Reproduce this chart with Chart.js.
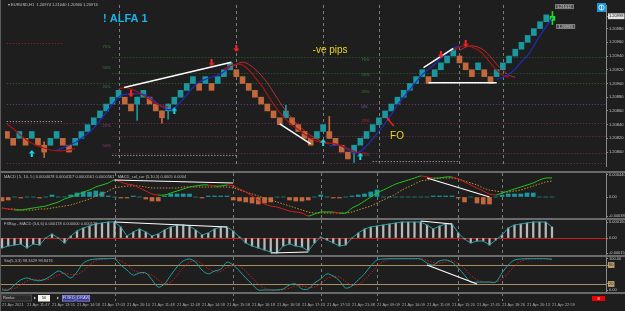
<!DOCTYPE html>
<html>
<head>
<meta charset="utf-8">
<title>EURUSD Renko</title>
<script src="https://cdn.jsdelivr.net/npm/chart.js@4.4.1/dist/chart.umd.min.js"></script>
<style>
  html, body { margin: 0; padding: 0; background: #1e1e1e; }
  #wrap { position: relative; width: 625px; height: 311px; overflow: hidden; background: #1e1e1e; }
  canvas { position: absolute; left: 0; }
  .sep { position: absolute; left: 0; width: 625px; height: 2px; background: #6b6b6b; }
  .frame { position: absolute; left: 0; top: 0; width: 1px; height: 311px; background: #5c5c5c; }
</style>
</head>
<body>
<div id="wrap">
  <canvas id="mainChart" width="625" height="171" style="top:0"></canvas>
  <div class="sep" style="top:171px"></div>
  <canvas id="macdChart" width="625" height="45" style="top:173px"></canvas>
  <div class="sep" style="top:218px"></div>
  <canvas id="osmaChart" width="625" height="35" style="top:220px"></canvas>
  <div class="sep" style="top:255px"></div>
  <canvas id="stochChart" width="625" height="54" style="top:257px"></canvas>
  <div class="sep" style="top:292px"></div>
  <div class="frame"></div>
</div>
<script>
const FONT = '"Liberation Sans", Arial, sans-serif';

// renko bricks, one per bar
const opens = [
  1.2083, 1.2082, 1.2082, 1.2082, 1.2082, 1.2082, 1.2081, 1.2081, 1.2082, 1.2082,
  1.2081, 1.2081, 1.2082, 1.2083, 1.2084, 1.2085, 1.2086, 1.2087, 1.2088, 1.2088,
  1.2087, 1.2087, 1.2088, 1.2088, 1.2087, 1.2086, 1.2086, 1.2087, 1.2088, 1.2089,
  1.2090, 1.2090, 1.2090, 1.2090, 1.2090, 1.2091, 1.2092, 1.2092, 1.2091, 1.2090,
  1.2089, 1.2088, 1.2087, 1.2086, 1.2085, 1.2085, 1.2085, 1.2084, 1.2083, 1.2082,
  1.2082, 1.2083, 1.2083, 1.2082, 1.2081, 1.2080, 1.2080, 1.2081, 1.2082, 1.2083,
  1.2084, 1.2085, 1.2086, 1.2087, 1.2088, 1.2089, 1.2090, 1.2091, 1.2091, 1.2091,
  1.2092, 1.2093, 1.2094, 1.2094, 1.2093, 1.2092, 1.2092, 1.2092, 1.2091, 1.2091,
  1.2092, 1.2093, 1.2094, 1.2095, 1.2096, 1.2097, 1.2098, 1.2099, 1.20992
];
const closes = [
  1.2082, 1.2081, 1.2083, 1.2081, 1.2083, 1.2081, 1.2080, 1.2082, 1.2083, 1.2081,
  1.2080, 1.2082, 1.2083, 1.2084, 1.2085, 1.2086, 1.2087, 1.2088, 1.2089, 1.2087,
  1.2086, 1.2088, 1.2089, 1.2087, 1.2086, 1.2085, 1.2087, 1.2088, 1.2089, 1.2090,
  1.2091, 1.2089, 1.2091, 1.2089, 1.2091, 1.2092, 1.2093, 1.2091, 1.2090, 1.2089,
  1.2088, 1.2087, 1.2086, 1.2085, 1.2084, 1.2086, 1.2084, 1.2083, 1.2082, 1.2081,
  1.2083, 1.2084, 1.2082, 1.2081, 1.2080, 1.2079, 1.2081, 1.2082, 1.2083, 1.2084,
  1.2085, 1.2086, 1.2087, 1.2088, 1.2089, 1.2090, 1.2091, 1.2092, 1.2090, 1.2092,
  1.2093, 1.2094, 1.2095, 1.2093, 1.2092, 1.2091, 1.2093, 1.2091, 1.2090, 1.2092,
  1.2093, 1.2094, 1.2095, 1.2096, 1.2097, 1.2098, 1.2099, 1.2100, 1.20998
];
const wickIdx  = [6, 21, 25, 26, 45, 52, 56, 88];
const wickLow  = [1.20792, 1.20846, 1.20842, 1.20848, 1.20850, 1.20820, 1.20785, 1.20986];
const wickHigh = [1.20815, 1.20880, 1.20860, 1.20870, 1.20868, 1.20852, 1.20810, 1.21005];

// moving averages, segments start at the given bar
const blueStart = [8, 52, 79];
const blueVals = [
  [1.20803, 1.20806, 1.20810, 1.20814, 1.20820, 1.20827, 1.20835, 1.20846, 1.20858, 1.20869,
   1.20880, 1.20884, 1.20885, 1.20885, 1.20884, 1.20880, 1.20873, 1.20866, 1.20862, 1.20864,
   1.20873, 1.20883, 1.20894, 1.20902, 1.20906, 1.20909, 1.20912, 1.20917, 1.20924],
  [1.20809, 1.20810, 1.20809, 1.20803, 1.20799, 1.20801, 1.20809, 1.20819, 1.20830, 1.20842,
   1.20855, 1.20869, 1.20880, 1.20891, 1.20902, 1.20913, 1.20921, 1.20928, 1.20937, 1.20944,
   1.20951, 1.20955],
  [1.20906, 1.20909, 1.20914, 1.20921, 1.20932, 1.20941, 1.20955, 1.20970, 1.20983, 1.20996]
];
const redStart = [0, 18, 35, 72];
const redVals = [
  [1.20841, 1.20834, 1.20826, 1.20819, 1.20813, 1.20809, 1.20806, 1.20803, 1.20802, 1.20802,
   1.20803, 1.20805],
  [1.20892, 1.20894, 1.20892, 1.20888, 1.20883, 1.20877, 1.20871, 1.20867, 1.20866],
  [1.20920, 1.20926, 1.20928, 1.20927, 1.20920, 1.20909, 1.20898, 1.20884, 1.20870, 1.20858,
   1.20848, 1.20839, 1.20833, 1.20826, 1.20820, 1.20816, 1.20814, 1.20813, 1.20812, 1.20809,
   1.20805, 1.20801, 1.20798, 1.20799],
  [1.20948, 1.20953, 1.20955, 1.20953, 1.20949, 1.20941, 1.20930, 1.20919, 1.20912, 1.20909]
];
const red2Start = [36, 73];
const red2Vals = [
  [1.20921, 1.20928, 1.20931, 1.20928, 1.20921, 1.20912, 1.20901, 1.20887, 1.20873, 1.20860,
   1.20849, 1.20839, 1.20831, 1.20824, 1.20819, 1.20814, 1.20812],
  [1.20948, 1.20953, 1.20955, 1.20953, 1.20948, 1.20939, 1.20928, 1.20919, 1.20912, 1.20909]
];

// signal arrows
const upArrowIdx = [4, 27, 51, 57];
const upArrowPrice = [1.20798, 1.20860, 1.20814, 1.20794];
const downArrowIdx = [20, 33, 37, 70, 74];
const downArrowPrice = [1.20885, 1.20930, 1.20951, 1.20942, 1.20958];

// hand drawn trend lines
const trendX1 = [18.9, 44, 67.2, 68];
const trendY1 = [1.20894, 1.20841, 1.20923, 1.20901];
const trendX2 = [36.2, 49, 72, 79];
const trendY2 = [1.20931, 1.20812, 1.20951, 1.20901];

// fibo / level lines
const fiboPrice = [1.20959, 1.20938, 1.20916, 1.20901, 1.20870, 1.20845, 1.20842, 1.20823, 1.20799, 1.20796, 1.20784, 1.20787];
const fiboFrom  = [-1, 17, 17, -1, -1, -1, -1, 17, 17, 17, -1, 59];
const fiboTo    = [9, 98, 98, 98, 98, 9, 98, 98, 98, 37, 98, 73];
const fiboGroup = ['red', 'green', 'green', 'green', 'purple', 'white', 'magenta', 'magenta', 'magenta', 'white', 'magenta', 'white'];
const fiboLabelText  = ['75%', '50%', '25%', '0%', '25%', '50%', '75%', '50%', '25%', '0%', '25%', '50%', '75%'];
const fiboLabelIdx   = [15.4, 15.4, 15.4, 15.4, 15.4, 15.4, 57.2, 57.2, 57.2, 57.2, 57.2, 57.2, 57.2];
const fiboLabelPrice = [1.20953, 1.20923, 1.20895, 1.20867, 1.20838, 1.20809, 1.20934, 1.20912, 1.20888, 1.20866, 1.20845, 1.20820, 1.20796];
const fiboLabelGroup = ['green', 'green', 'green', 'purple', 'magenta', 'magenta', 'green', 'green', 'green', 'purple', 'red', 'magenta', 'magenta'];

// text objects on the chart
const noteText  = ['! ALFA 1', '-ve pips', 'FO'];
const noteIdx   = [15.5, 49.3, 61.8];
const notePrice = [1.20990, 1.20945, 1.20819];
const foArrowX = [62.4, 61.3];
const foArrowY = [1.20838, 1.20850];
const tagIdx   = [88.4, 88.6];
const tagPrice = [1.21012, 1.20983];

const priceTicks = [1.20980, 1.20960, 1.20940, 1.20920, 1.20900, 1.20880, 1.20860, 1.20840, 1.20820, 1.20800];

// MACD panel
const macdMain = [
  -0.00022, -0.00024, -0.00026, -0.00026, -0.00024, -0.00022, -0.0002, -0.00018, -0.00014, -0.0001,
  -0.00004, 0, 0.00004, 0.0001, 0.00014, 0.0002, 0.00024, 0.00028, 0.00034, 0.0003,
  0.00026, 0.00024, 0.00018, 0.00012, 0.00006, 0.00004, 0.00004, 0.00008, 0.00012, 0.00016,
  0.0002, 0.00022, 0.00024, 0.00024, 0.00022, 0.00022, 0.00024, 0.00022, 0.00016, 0.0001,
  0.00002, -0.00006, -0.00014, -0.00018, -0.0002, -0.00024, -0.00028, -0.0003, -0.00032, -0.00038,
  -0.00034, -0.0003, -0.0003, -0.0003, -0.00032, -0.00032, -0.00022, -0.00016, -0.00008, 0,
  0.00008, 0.00014, 0.0002, 0.00026, 0.0003, 0.00034, 0.00038, 0.00042, 0.0004, 0.00038,
  0.00038, 0.0004, 0.0004, 0.00036, 0.0003, 0.00024, 0.00018, 0.00012, 0.00006, 0.00004,
  0.00008, 0.00012, 0.00016, 0.0002, 0.00024, 0.00028, 0.00034, 0.00038, 0.00038
];
const macdSignal = [
  -0.00022, -0.00024, -0.00024, -0.00026, -0.00026, -0.00026, -0.00024, -0.00024, -0.00022, -0.0002,
  -0.00018, -0.00016, -0.00012, -0.00008, -0.00004, 0.00002, 0.00006, 0.00012, 0.00018, 0.0002,
  0.00022, 0.00022, 0.00022, 0.0002, 0.00018, 0.00018, 0.00018, 0.00018, 0.00018, 0.0002,
  0.0002, 0.0002, 0.0002, 0.0002, 0.0002, 0.0002, 0.0002, 0.00018, 0.00014, 0.0001,
  0.00006, 0.00002, -0.00002, -0.00006, -0.0001, -0.00014, -0.00018, -0.00022, -0.00026, -0.0003,
  -0.00032, -0.00032, -0.00032, -0.00032, -0.00032, -0.00032, -0.0003, -0.00026, -0.00022, -0.00018,
  -0.00012, -0.00006, 0, 0.00006, 0.00014, 0.0002, 0.00026, 0.00032, 0.00034, 0.00036,
  0.00038, 0.00038, 0.00038, 0.00036, 0.00032, 0.00028, 0.00024, 0.00018, 0.00014, 0.00012,
  0.0001, 0.0001, 0.00012, 0.00014, 0.00018, 0.00022, 0.00026, 0.0003, 0.00032
];
const macdHist = [
  -0.00008, -0.00006, 0, -0.00002, 0, 0, -0.00002, 0, 0.00004, 0,
  0, 0.00004, 0.00008, 0.0001, 0.0001, 0.00012, 0.0001, 0.00002, 0, -0.00002,
  -0.00002, 0.00002, 0, -0.00004, -0.00008, -0.00008, 0.00002, 0.00006, 0.00006, 0.00006,
  0.00006, 0, -0.00002, 0.00002, 0.00002, 0.00002, 0.00002, -0.00006, -0.00008, -0.0001,
  -0.00012, -0.00014, -0.00012, -0.0001, 0, 0, -0.00006, -0.00008, -0.00008, -0.00006,
  0, 0.00004, 0, -0.00002, -0.00002, 0, 0.00002, 0.00004, 0.00006, 0.0001,
  0.00014, 0, 0, 0, 0, 0, 0, 0, 0, 0.00002,
  0.00002, 0.00002, 0.00002, -0.00002, -0.0001, 0, -0.00012, -0.00014, -0.00014, 0,
  0.00004, 0.00006, 0.00006, 0.00006, 0.00008, 0.00008, 0, 0, 0
];
const macdTicks = [0.00044, 0, -0.00038];
const macdTrendX = [[18, 37], [68, 78]];
const macdTrendY = [[0.00034, 0.00028], [0.00038, 0]];

// FXBay MACD (OsMA) panel
const osmaVals = [
  -0.0001, -0.00008, -0.00007, -0.00006, -0.0001, -0.00006, -0.00007, 0, 0.00004, 0,
  -0.00005, 0.00002, 0.00007, 0.0001, 0.00012, 0.00014, 0.00015, 0.00016, 0.00016, 0.00011,
  0.00002, 0.00006, 0.00009, 0.00006, 0.00002, 0.00004, 0.00008, 0.00011, 0.00013, 0.00013,
  0.00012, 0.00008, 0.00003, 0.00005, 0.00009, 0.00011, 0.00011, 0.00007, 0.00001, -0.00005,
  -0.00008, -0.0001, -0.00012, -0.00014, -0.00015, -0.00008, -0.00006, -0.00008, -0.00009, -0.00013,
  -0.00005, 0.00001, -0.00002, -0.00005, -0.00008, -0.00007, 0, 0.00005, 0.00009, 0.00011,
  0.00012, 0.00013, 0.00014, 0.00015, 0.00016, 0.00016, 0.00016, 0.00016, 0.00013, 0.00009,
  0.00012, 0.00014, 0.00014, 0.00005, -0.00001, -0.00005, -0.00003, -0.00003, -0.00007, -0.00002,
  0.00003, 0.0001, 0.00013, 0.00014, 0.00015, 0.00016, 0.00016, 0.00016, 0.00011
];
const osmaTicks = [0.00016, 0, -0.00015];
const osmaLevels = [0];
const osmaTrendX = [[18, 36], [67, 72], [43, 49]];
const osmaTrendY = [[0.00016, 0.00011], [0.00017, 0.00014], [-0.00015, -0.00014]];

// Stochastic panel
const stochMain = [
  1, 1, 17, 33, 39, 33, 30, 36, 48, 61,
  52, 39, 58, 86, 96, 99, 100, 100, 100, 80,
  64, 48, 55, 55, 33, 10, 20, 48, 74, 93,
  99, 89, 64, 52, 61, 67, 89, 80, 61, 39,
  20, 1, 1, 1, 1, 4, 17, 20, 4, 4,
  23, 36, 52, 45, 30, 7, 14, 33, 52, 77,
  96, 99, 100, 100, 100, 100, 100, 99, 86, 80,
  93, 96, 89, 71, 48, 26, 26, 26, 26, 26,
  55, 80, 96, 99, 100, 100, 100, 100, 98
];
const stochSignal = [
  5, 3, 6, 17, 30, 35, 34, 33, 38, 48,
  54, 50, 50, 61, 80, 94, 98, 100, 100, 93,
  81, 64, 56, 53, 48, 33, 21, 26, 47, 72,
  89, 94, 84, 68, 59, 60, 72, 79, 77, 60,
  40, 20, 7, 1, 1, 2, 7, 14, 14, 9,
  10, 21, 37, 44, 42, 27, 17, 18, 33, 54,
  75, 91, 98, 100, 100, 100, 100, 100, 95, 88,
  86, 90, 93, 85, 69, 48, 33, 26, 26, 26,
  36, 54, 77, 92, 98, 100, 100, 100, 99
];
const stochTicks = [100, 80, 20, 0];
const stochLevels = [80, 20];
const stochTrendX = [[68, 76]];
const stochTrendY = [[80, 20]];

// time axis
const timeTickIdx = [0, 4, 8, 12, 16, 20, 24, 28, 32, 36, 40, 44, 48, 52, 56, 60, 64, 68, 72, 76, 80, 84, 88];
const timeLabels = [
  '21 Apr 2021', '21 Apr 11:47', '21 Apr 13:55', '21 Apr 14:58', '21 Apr 17:03', '21 Apr 20:10',
  '21 Apr 11:48', '21 Apr 12:48', '21 Apr 14:58', '21 Apr 15:58', '21 Apr 16:18', '21 Apr 16:58',
  '21 Apr 17:43', '21 Apr 17:53', '21 Apr 21:48', '21 Apr 09:09', '21 Apr 10:09', '21 Apr 11:08',
  '21 Apr 15:20', '21 Apr 17:45', '21 Apr 18:26', '21 Apr 20:13', '21 Apr 22:59'
];
const separatorIdx = [18, 37, 51, 60, 73, 80];

const X_MIN = -0.32, X_MAX = 96.64;
const UP = '#1b989f', DOWN = '#c2683d', LIVE = '#22dd22';
const LEVEL_COLORS = { green: '#2e6a2e', purple: '#6e3f82', magenta: '#7e2c62', red: '#a82222', white: '#bcbcbc' };
const LABEL_COLORS = { green: '#3f863f', purple: '#8e58a0', magenta: '#9c3c7c', red: '#c43030' };
const lastIdx = closes.length - 1;
const lastClose = closes[lastIdx];

Chart.defaults.font.family = FONT;
Chart.defaults.animation = false;

function candleColor(i) {
  if (i === lastIdx) return LIVE;
  return closes[i] >= opens[i] ? UP : DOWN;
}

function segPoints(starts, vals) {
  const pts = [];
  starts.forEach((s, k) => {
    if (k > 0) pts.push({ x: s - 0.5, y: null });
    vals[k].forEach((v, j) => pts.push({ x: s + j, y: v }));
  });
  return pts;
}

function trendSets(xs, ys, width) {
  return xs.map((xx, k) => ({
    type: 'line',
    data: [{ x: xx[0], y: ys[k][0] }, { x: xx[1], y: ys[k][1] }],
    borderColor: '#ffffff', borderWidth: width, pointRadius: 0, order: 0
  }));
}

function makeArrow(color, up) {
  const c = document.createElement('canvas');
  c.width = 6; c.height = 7;
  const g = c.getContext('2d');
  g.fillStyle = color;
  g.beginPath();
  if (up) { g.moveTo(3, 0); g.lineTo(6, 3.5); g.lineTo(0, 3.5); }
  else { g.moveTo(3, 7); g.lineTo(6, 3.5); g.lineTo(0, 3.5); }
  g.closePath(); g.fill();
  g.fillRect(2, up ? 3.5 : 0, 2, 3.5);
  return c;
}

function xScale(show) {
  return {
    type: 'linear', min: X_MIN, max: X_MAX, offset: false, display: show,
    grid: { display: false, drawTicks: false }, border: { display: false },
    afterFit(s) { s.paddingLeft = 0; s.paddingRight = 0; if (show) s.height = 19; },
    afterBuildTicks(s) { s.ticks = timeTickIdx.map(v => ({ value: v })); },
    ticks: {
      autoSkip: false, maxRotation: 0, minRotation: 0, align: 'start', padding: 10,
      color: '#a9a9a9', font: { size: 4 },
      callback: (v, i) => timeLabels[i]
    }
  };
}

function yScale(min, max, tickVals, fmt, tickExtra) {
  return {
    position: 'right', min, max,
    grid: { display: true, drawOnChartArea: false, drawTicks: true, tickLength: 2, color: '#8a8a8a' },
    border: { display: true, color: '#8a8a8a' },
    afterFit(s) { s.width = 19; s.paddingTop = 0; s.paddingBottom = 0; },
    afterBuildTicks(s) { s.ticks = tickVals.map(v => ({ value: v })); },
    ticks: Object.assign({ autoSkip: false, padding: 1, color: '#c4c4c4', font: { size: 4 }, callback: fmt }, tickExtra || {})
  };
}

const panelDecor = {
  id: 'panelDecor',
  beforeDatasetsDraw(chart, args, opts) {
    const { ctx, chartArea: a, scales: { x, y } } = chart;
    ctx.save();
    ctx.lineWidth = 1;
    ctx.strokeStyle = '#7c7c7c';
    ctx.setLineDash([3, 3]);
    separatorIdx.forEach(v => {
      const px = Math.round(x.getPixelForValue(v)) + 0.5;
      ctx.beginPath(); ctx.moveTo(px, a.top); ctx.lineTo(px, a.bottom + (opts.sepExtra || 0)); ctx.stroke();
    });
    ctx.setLineDash([]);
    (opts.levels || []).forEach(v => {
      const py = Math.round(y.getPixelForValue(v)) + 0.5;
      ctx.strokeStyle = opts.levelColor;
      ctx.beginPath(); ctx.moveTo(a.left, py); ctx.lineTo(a.right, py); ctx.stroke();
    });
    ctx.restore();
  },
  afterDraw(chart, args, opts) {
    if (!opts.header) return;
    const { ctx, chartArea: a } = chart;
    ctx.save();
    ctx.font = '4px ' + FONT;
    ctx.fillStyle = '#bdbdbd';
    ctx.textBaseline = 'top';
    ctx.fillText(opts.header, a.left + 4, a.top + (opts.headerDy || 2));
    ctx.restore();
  }
};
Chart.register(panelDecor);

const mainDecor = {
  id: 'mainDecor',
  beforeDatasetsDraw(chart) {
    const { ctx, chartArea: a, scales: { x, y } } = chart;
    ctx.save();
    ctx.beginPath(); ctx.rect(a.left, a.top, a.width, a.height); ctx.clip();
    ctx.lineWidth = 1;
    ctx.setLineDash([1, 2]);
    fiboPrice.forEach((p, k) => {
      const py = Math.round(y.getPixelForValue(p)) + 0.5;
      ctx.strokeStyle = LEVEL_COLORS[fiboGroup[k]];
      ctx.beginPath();
      ctx.moveTo(x.getPixelForValue(fiboFrom[k]), py);
      ctx.lineTo(x.getPixelForValue(fiboTo[k]), py);
      ctx.stroke();
    });
    ctx.setLineDash([]);
    ctx.font = '4px ' + FONT;
    ctx.textBaseline = 'middle';
    fiboLabelText.forEach((t, k) => {
      ctx.fillStyle = LABEL_COLORS[fiboLabelGroup[k]];
      ctx.fillText(t, x.getPixelForValue(fiboLabelIdx[k]), y.getPixelForValue(fiboLabelPrice[k]));
    });
    ctx.restore();
  },
  afterDatasetsDraw(chart) {
    const { ctx, chartArea: a, scales: { x, y } } = chart;
    ctx.save();
    // text objects
    const styles = [
      { font: 'bold 11px ' + FONT, color: '#1eb2ec' },
      { font: '10px ' + FONT, color: '#e9d51c' },
      { font: '10px ' + FONT, color: '#e9d51c' }
    ];
    ctx.textBaseline = 'alphabetic';
    noteText.forEach((t, k) => {
      ctx.font = styles[k].font;
      ctx.fillStyle = styles[k].color;
      ctx.fillText(t, x.getPixelForValue(noteIdx[k]), y.getPixelForValue(notePrice[k]));
    });
    // FO arrow
    const x0 = x.getPixelForValue(foArrowX[0]), y0 = y.getPixelForValue(foArrowY[0]);
    const x1 = x.getPixelForValue(foArrowX[1]), y1 = y.getPixelForValue(foArrowY[1]);
    const ang = Math.atan2(y1 - y0, x1 - x0);
    ctx.strokeStyle = '#e52222'; ctx.fillStyle = '#e52222'; ctx.lineWidth = 1.5;
    ctx.beginPath(); ctx.moveTo(x0, y0); ctx.lineTo(x1, y1); ctx.stroke();
    ctx.beginPath();
    ctx.moveTo(x1, y1);
    ctx.lineTo(x1 - 3.5 * Math.cos(ang - 0.5), y1 - 3.5 * Math.sin(ang - 0.5));
    ctx.lineTo(x1 - 3.5 * Math.cos(ang + 0.5), y1 - 3.5 * Math.sin(ang + 0.5));
    ctx.closePath(); ctx.fill();
    // price tags of objects
    ctx.font = '4px ' + FONT; ctx.textBaseline = 'middle'; ctx.lineWidth = 0.8;
    tagIdx.forEach((v, k) => {
      const px = x.getPixelForValue(v), py = y.getPixelForValue(tagPrice[k]);
      ctx.fillStyle = '#484848'; ctx.fillRect(px, py - 2.5, 19, 5);
      ctx.strokeStyle = '#8c8c8c'; ctx.strokeRect(px + 0.5, py - 2, 18, 4);
      ctx.fillStyle = '#e2e2e2'; ctx.fillText(tagPrice[k].toFixed(5), px + 2, py);
    });
    ctx.restore();
  },
  afterDraw(chart) {
    const { ctx, chartArea: a } = chart;
    ctx.save();
    ctx.font = '4px ' + FONT; ctx.fillStyle = '#c6c6c6'; ctx.textBaseline = 'middle';
    ctx.fillText('\u25BE EURUSD,H1  1.20974 1.21040 1.20940 1.20974', a.left + 3, 5);
    // one click icon
    const ix = a.right - 9, iy = 3;
    ctx.fillStyle = '#1598d4'; ctx.fillRect(ix, iy, 9, 9);
    ctx.strokeStyle = '#ffffff'; ctx.lineWidth = 0.8;
    ctx.beginPath(); ctx.arc(ix + 4.5, iy + 4.5, 2.6, 0, Math.PI * 2); ctx.stroke();
    ctx.beginPath(); ctx.moveTo(ix + 4.5, iy + 2.2); ctx.lineTo(ix + 4.5, iy + 6.8); ctx.stroke();
    ctx.restore();
  }
};

const bottomBar = {
  id: 'bottomBar',
  afterDraw(chart) {
    const { ctx, chartArea: a } = chart;
    const top = a.bottom + 2.5;
    ctx.save();
    ctx.font = '4px ' + FONT; ctx.textBaseline = 'middle'; ctx.lineWidth = 0.8;
    ctx.fillStyle = '#2a2a2a'; ctx.fillRect(1, top, 31, 7);
    ctx.strokeStyle = '#4e4e4e'; ctx.strokeRect(1.5, top + 0.5, 30, 6);
    ctx.fillStyle = '#c8c8c8'; ctx.fillText('Renko', 3, top + 3.5);
    ctx.fillStyle = '#bdbdbd';
    ctx.beginPath(); ctx.moveTo(34, top + 2); ctx.lineTo(36, top + 3.5); ctx.lineTo(34, top + 5); ctx.fill();
    ctx.beginPath(); ctx.moveTo(57, top + 2); ctx.lineTo(59, top + 3.5); ctx.lineTo(57, top + 5); ctx.fill();
    ctx.fillStyle = '#f2f2ec'; ctx.fillRect(38, top + 0.5, 12, 6.5);
    ctx.fillStyle = '#111'; ctx.textAlign = 'center'; ctx.fillText('50', 44, top + 3.7);
    [['FIXED', 62], ['DRAW', 76.5]].forEach(([t, bx]) => {
      ctx.fillStyle = '#3a3a96'; ctx.fillRect(bx, top + 0.5, 13.5, 6.5);
      ctx.strokeStyle = '#8a8ad6'; ctx.strokeRect(bx + 0.4, top + 0.9, 12.7, 5.7);
      ctx.fillStyle = '#dcdcff'; ctx.fillText(t, bx + 6.75, top + 3.7);
    });
    ctx.fillStyle = '#ee0000'; ctx.fillRect(592, top + 1.5, 13, 5);
    ctx.fillStyle = '#ffffff'; ctx.fillText('8', 598.5, top + 4);
    ctx.restore();
  }
};

const baseOptions = {
  responsive: false, maintainAspectRatio: false, devicePixelRatio: 1, events: [],
  plugins: { legend: { display: false }, tooltip: { enabled: false } }
};

// ---- main price chart ----
const bodyData = opens.map((o, i) => ({ x: i, y: [Math.min(o, closes[i]), Math.max(o, closes[i])] }));
const wickData = wickIdx.map((v, k) => ({ x: v, y: [wickLow[k], wickHigh[k]] }));

new Chart(document.getElementById('mainChart'), {
  type: 'bar',
  data: {
    datasets: [
      { type: 'bar', data: wickData, backgroundColor: wickIdx.map(candleColor), barThickness: 1, grouped: false, borderWidth: 0, order: 5 },
      { type: 'bar', data: bodyData, backgroundColor: opens.map((o, i) => candleColor(i)), barThickness: 5, grouped: false, borderWidth: 0, order: 4 },
      { type: 'line', data: segPoints(red2Start, red2Vals), borderColor: '#e03434', borderWidth: 0.8, pointRadius: 0, tension: 0.35, order: 3 },
      { type: 'line', data: segPoints(redStart, redVals), borderColor: '#a81414', borderWidth: 1.2, pointRadius: 0, tension: 0.35, order: 2 },
      { type: 'line', data: segPoints(blueStart, blueVals), borderColor: '#1f2cc2', borderWidth: 1.2, pointRadius: 0, tension: 0.35, order: 2 },
      ...trendX1.map((xx, k) => ({
        type: 'line', data: [{ x: xx, y: trendY1[k] }, { x: trendX2[k], y: trendY2[k] }],
        borderColor: '#ffffff', borderWidth: 1.5, pointRadius: 0, order: 1
      })),
      { type: 'scatter', data: upArrowIdx.map((v, k) => ({ x: v, y: upArrowPrice[k] })), pointStyle: makeArrow('#19e0f0', true), order: 0 },
      { type: 'scatter', data: downArrowIdx.map((v, k) => ({ x: v, y: downArrowPrice[k] })), pointStyle: makeArrow('#ff2424', false), order: 0 }
    ]
  },
  options: Object.assign({}, baseOptions, {
    layout: { padding: { top: 2, left: 0, right: 0, bottom: 0 } },
    scales: {
      x: xScale(false),
      y: yScale(1.207797, 1.210144, priceTicks.concat([lastClose]), v => v.toFixed(5), {
        showLabelBackdrop: c => c.tick && c.tick.value === lastClose,
        backdropColor: '#e4e4e4',
        backdropPadding: { x: 1, y: 0.5 },
        color: c => (c.tick && c.tick.value === lastClose ? '#111111' : '#c4c4c4')
      })
    }
  }),
  plugins: [mainDecor]
});

// ---- MACD ----
new Chart(document.getElementById('macdChart'), {
  type: 'bar',
  data: {
    datasets: [
      { type: 'bar', data: macdHist.map((v, i) => ({ x: i, y: v })), backgroundColor: macdHist.map(v => (v >= 0 ? UP : DOWN)), barThickness: 4, grouped: false, borderWidth: 0, order: 3 },
      { type: 'line', data: macdSignal.map((v, i) => ({ x: i, y: v })), borderColor: '#c98a2c', borderWidth: 1, borderDash: [1.5, 1.5], pointRadius: 0, tension: 0.3, order: 2 },
      {
        type: 'line', data: macdMain.map((v, i) => ({ x: i, y: v })), borderColor: '#21c421', borderWidth: 1, pointRadius: 0, tension: 0.3, order: 1,
        segment: { borderColor: c => (c.p1.parsed.y >= c.p0.parsed.y ? '#21c421' : '#d41e1e') }
      },
      ...trendSets(macdTrendX, macdTrendY, 1.2)
    ]
  },
  options: Object.assign({}, baseOptions, {
    layout: { padding: 0 },
    plugins: Object.assign({}, baseOptions.plugins, {
      panelDecor: { header: 'MACD | 5, 10, 5 | 0.0004678 0.0004117 0.0000561 0.0000561   MACD_col_cor (5,10,5) 0.0005 0.0004', headerDy: 2 }
    }),
    scales: {
      x: xScale(false),
      y: yScale(-0.00042, 0.00048, macdTicks, v => (v === 0 ? '0.00' : v.toFixed(6)))
    }
  })
});

// ---- FXBay MACD ----
new Chart(document.getElementById('osmaChart'), {
  type: 'bar',
  data: {
    datasets: [
      { type: 'bar', data: osmaVals.map((v, i) => ({ x: i, y: v })), backgroundColor: '#b8b8b8', barThickness: 1.6, grouped: false, borderWidth: 0, order: 3 },
      { type: 'line', data: osmaVals.map((v, i) => ({ x: i, y: v })), borderColor: '#2b9fa6', borderWidth: 1, pointRadius: 0, tension: 0, order: 2 },
      ...trendSets(osmaTrendX, osmaTrendY, 1.2)
    ]
  },
  options: Object.assign({}, baseOptions, {
    layout: { padding: 0 },
    plugins: Object.assign({}, baseOptions.plugins, {
      panelDecor: { header: 'FXBay - MACD (3,6,6) 0.000178 0.000000 0.000178', headerDy: 1.5, levels: osmaLevels, levelColor: '#cc1c1c' }
    }),
    scales: {
      x: xScale(false),
      y: yScale(-0.00017, 0.00018, osmaTicks, v => (v === 0 ? '0.00' : v.toFixed(6)))
    }
  })
});

// ---- Stochastic ----
new Chart(document.getElementById('stochChart'), {
  type: 'line',
  data: {
    datasets: [
      { type: 'line', data: stochSignal.map((v, i) => ({ x: i, y: v })), borderColor: '#d41c1c', borderWidth: 1, borderDash: [1.5, 1.5], pointRadius: 0, tension: 0.3, order: 2 },
      { type: 'line', data: stochMain.map((v, i) => ({ x: i, y: v })), borderColor: '#21a0a0', borderWidth: 1, pointRadius: 0, tension: 0.3, order: 1 },
      ...trendSets(stochTrendX, stochTrendY, 1.2)
    ]
  },
  options: Object.assign({}, baseOptions, {
    layout: { padding: 0 },
    plugins: Object.assign({}, baseOptions.plugins, {
      panelDecor: { header: 'Sto(5,3,3) 98.3429 98.8476', headerDy: 1.5, levels: stochLevels, levelColor: '#a88c60', sepExtra: 9 }
    }),
    scales: {
      x: xScale(true),
      y: yScale(-5.4, 105.4, stochTicks, v => (v === 100 || v === 0 ? v.toFixed(2) : String(v)), {
        showLabelBackdrop: c => c.tick && (c.tick.value === 80 || c.tick.value === 20),
        backdropColor: '#c0a070',
        backdropPadding: { x: 1, y: 0.5 },
        color: c => (c.tick && (c.tick.value === 80 || c.tick.value === 20) ? '#1e1e1e' : '#c4c4c4')
      })
    }
  }),
  plugins: [bottomBar]
});
</script>
</body>
</html>
